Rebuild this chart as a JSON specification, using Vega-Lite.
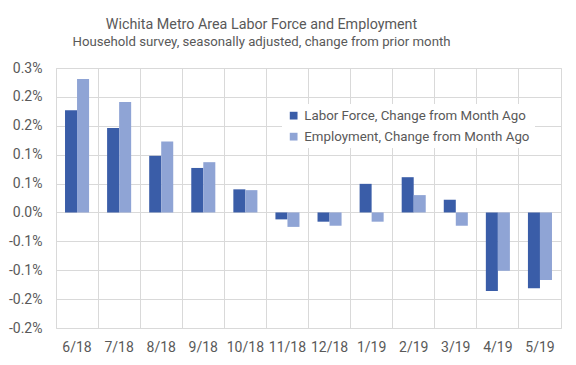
{
  "$schema": "https://vega.github.io/schema/vega-lite/v6.json",
  "width": 505,
  "height": 260,
  "autosize": "none",
  "padding": {"left": 56, "top": 68, "right": 15, "bottom": 37},
  "background": "white",
  "title": {
    "text": "Wichita Metro Area Labor Force and Employment",
    "subtitle": "Household survey, seasonally adjusted, change from prior month",
    "anchor": "middle",
    "dx": -47,
    "offset": 13,
    "font": "Roboto",
    "fontSize": 14.3,
    "fontWeight": "normal",
    "color": "#595959",
    "subtitleFont": "Roboto",
    "subtitleFontSize": 13.2,
    "subtitleColor": "#595959",
    "subtitlePadding": 4
  },
  "data": {
    "values": [
      {"month": "6/18", "series": "Labor Force, Change from Month Ago", "value": 0.177},
      {"month": "6/18", "series": "Employment, Change from Month Ago", "value": 0.231},
      {"month": "7/18", "series": "Labor Force, Change from Month Ago", "value": 0.146},
      {"month": "7/18", "series": "Employment, Change from Month Ago", "value": 0.191},
      {"month": "8/18", "series": "Labor Force, Change from Month Ago", "value": 0.098},
      {"month": "8/18", "series": "Employment, Change from Month Ago", "value": 0.123},
      {"month": "9/18", "series": "Labor Force, Change from Month Ago", "value": 0.077},
      {"month": "9/18", "series": "Employment, Change from Month Ago", "value": 0.087},
      {"month": "10/18", "series": "Labor Force, Change from Month Ago", "value": 0.040},
      {"month": "10/18", "series": "Employment, Change from Month Ago", "value": 0.0386},
      {"month": "11/18", "series": "Labor Force, Change from Month Ago", "value": -0.012},
      {"month": "11/18", "series": "Employment, Change from Month Ago", "value": -0.025},
      {"month": "12/18", "series": "Labor Force, Change from Month Ago", "value": -0.016},
      {"month": "12/18", "series": "Employment, Change from Month Ago", "value": -0.023},
      {"month": "1/19", "series": "Labor Force, Change from Month Ago", "value": 0.0495},
      {"month": "1/19", "series": "Employment, Change from Month Ago", "value": -0.016},
      {"month": "2/19", "series": "Labor Force, Change from Month Ago", "value": 0.061},
      {"month": "2/19", "series": "Employment, Change from Month Ago", "value": 0.030},
      {"month": "3/19", "series": "Labor Force, Change from Month Ago", "value": 0.022},
      {"month": "3/19", "series": "Employment, Change from Month Ago", "value": -0.023},
      {"month": "4/19", "series": "Labor Force, Change from Month Ago", "value": -0.136},
      {"month": "4/19", "series": "Employment, Change from Month Ago", "value": -0.101},
      {"month": "5/19", "series": "Labor Force, Change from Month Ago", "value": -0.131},
      {"month": "5/19", "series": "Employment, Change from Month Ago", "value": -0.117}
    ]
  },
  "mark": {"type": "bar"},
  "encoding": {
    "x": {
      "field": "month",
      "type": "nominal",
      "sort": null,
      "scale": {"padding": 0},
      "axis": {
        "title": null,
        "labelAngle": 0,
        "ticks": false,
        "tickSize": 0,
        "domain": false,
        "grid": true,
        "bandPosition": 0,
        "gridColor": "#d9d9d9",
        "labelPadding": 12,
        "labelFont": "Roboto",
        "labelFontSize": 14,
        "labelColor": "#595959"
      }
    },
    "xOffset": {
      "field": "series",
      "type": "nominal",
      "sort": ["Labor Force, Change from Month Ago", "Employment, Change from Month Ago"],
      "scale": {"paddingInner": 0, "paddingOuter": 0.75}
    },
    "y": {
      "field": "value",
      "type": "quantitative",
      "scale": {"domain": [-0.2, 0.25], "nice": false, "zero": false},
      "axis": {
        "title": null,
        "values": [-0.2, -0.15, -0.1, -0.05, 0, 0.05, 0.1, 0.15, 0.2, 0.25],
        "labelExpr": "(datum.value < 0 ? '-' : '') + format(round(abs(datum.value) * 10 + 0.000001) / 10, '.1f') + '%'",
        "ticks": false,
        "tickSize": 0,
        "domain": false,
        "gridColor": "#d9d9d9",
        "labelPadding": 14,
        "labelFont": "Roboto",
        "labelFontSize": 14,
        "labelColor": "#595959"
      }
    },
    "color": {
      "field": "series",
      "type": "nominal",
      "sort": ["Labor Force, Change from Month Ago", "Employment, Change from Month Ago"],
      "scale": {"range": ["#3a5da8", "#8fa4d5"]},
      "legend": {
        "title": null,
        "orient": "none",
        "legendX": 226,
        "legendY": 36,
        "fillColor": "white",
        "padding": 5,
        "symbolType": "square",
        "symbolSize": 60,
        "symbolOpacity": 1,
        "symbolStrokeWidth": 0,
        "rowPadding": 7,
        "labelFont": "Roboto",
        "labelFontSize": 13.3,
        "labelColor": "#595959",
        "labelOffset": 4,
        "labelLimit": 400
      }
    }
  },
  "config": {
    "view": {"stroke": "#d9d9d9"}
  }
}
